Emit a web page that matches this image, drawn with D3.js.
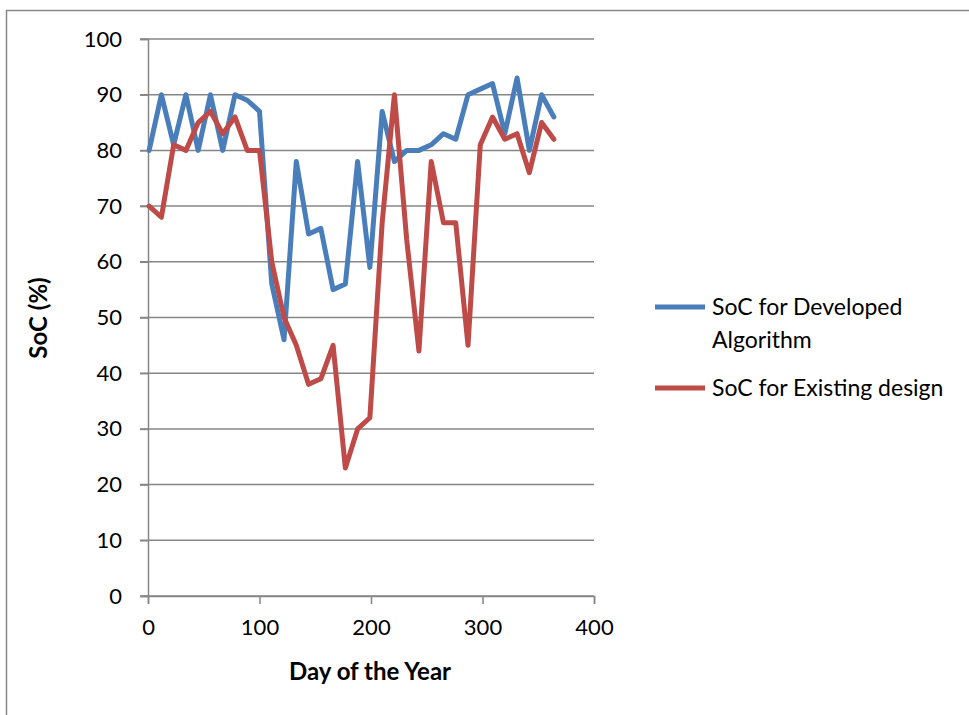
<!DOCTYPE html>
<html><head><meta charset="utf-8">
<script src="https://cdn.jsdelivr.net/npm/d3@7"></script>
<style>body{margin:0;background:#fff}svg{display:block}text{font-family:Lato,"Liberation Sans",sans-serif}</style>
</head><body>
<script>
const days = [1,12,23,34,45,56,67,78,89,100,111,122,133,144,155,166,177,188,199,210,221,232,243,254,265,276,287,298,309,320,331,342,353,364];
const developed = [80,90,81,90,80,90,80,90,89,87,56,46,78,65,66,55,56,78,59,87,78,80,80,81,83,82,90,91,92,83,93,80,90,86];
const existing = [70,68,81,80,85,87,83,86,80,80,60,50,45,38,39,45,23,30,32,67,90,64,44,78,67,67,45,81,86,82,83,76,85,82];
const seriesNames = ["SoC for Developed\nAlgorithm","SoC for Existing design"];
const seriesColors = ["#4a7ebb","#be4b48"];
const xTicks = [0,100,200,300,400];
const yTicks = [0,10,20,30,40,50,60,70,80,90,100];

const W=969,H=715;
const FONT='Lato,"Liberation Sans",sans-serif';
const svg=d3.select("body").append("svg").attr("width",W).attr("height",H);
svg.append("rect").attr("x",6.5).attr("y",10.5).attr("width",W+20).attr("height",H+20).attr("fill","none").attr("stroke","#888").attr("stroke-width",1.5);

const x=d3.scaleLinear().domain([0,400]).range([148,594]);
const y=d3.scaleLinear().domain([0,100]).range([596,39]);

svg.append("g").selectAll("line").data(yTicks).join("line")
  .attr("x1",140).attr("x2",594).attr("y1",d=>y(d)).attr("y2",d=>y(d))
  .attr("stroke","#868686").attr("stroke-width",1.5);

const yAxis=svg.append("g").attr("transform","translate(148,0)")
  .call(d3.axisLeft(y).tickValues(yTicks).tickSize(8).tickPadding(18));
yAxis.select(".domain").attr("stroke","#868686").attr("stroke-width",1.5);
yAxis.selectAll(".tick line").attr("stroke","#868686").attr("stroke-width",1.5);
yAxis.selectAll("text").attr("font-size",22).attr("fill","#000").attr("font-family",FONT);

const xAxis=svg.append("g").attr("transform","translate(0,596)")
  .call(d3.axisBottom(x).tickValues(xTicks).tickSize(8).tickPadding(15));
xAxis.select(".domain").attr("stroke","#868686").attr("stroke-width",1.5);
xAxis.selectAll(".tick line").attr("stroke","#868686").attr("stroke-width",1.5);
xAxis.selectAll("text").attr("font-size",22).attr("fill","#000").attr("font-family",FONT);

svg.append("text").attr("transform","translate(47,318) rotate(-90)").attr("text-anchor","middle")
  .attr("font-size",24).attr("font-weight","bold").text("SoC (%)");
svg.append("text").attr("x",370).attr("y",680).attr("text-anchor","middle")
  .attr("font-size",24).attr("font-weight","bold").text("Day of the Year");

const line=d3.line().x((d,i)=>x(days[i])).y(d=>y(d));
[developed,existing].forEach((s,k)=>{
  svg.append("path").datum(s).attr("d",line).attr("fill","none")
    .attr("stroke",seriesColors[k]).attr("stroke-width",5).attr("stroke-linejoin","round").attr("stroke-linecap","round");
});

const ly=[307,388];
seriesNames.forEach((n,k)=>{
  svg.append("line").attr("x1",655).attr("x2",705).attr("y1",ly[k]).attr("y2",ly[k])
    .attr("stroke",seriesColors[k]).attr("stroke-width",5);
  const t=svg.append("text").attr("x",712).attr("y",ly[k]+8).attr("font-size",23);
  n.split("\n").forEach((p,i)=>t.append("tspan").attr("x",712).attr("dy",i?33:0).text(p));
});
</script>
</body></html>
